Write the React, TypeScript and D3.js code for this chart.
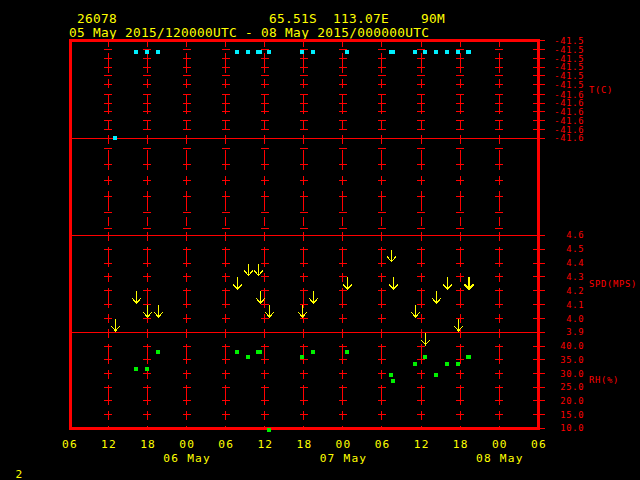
import React from "react";
import * as d3 from "d3";

// ---- header text ----
const stationId = "26078";
const latText = "65.51S";
const lonText = "113.07E";
const elevText = "90M";
const titleRange = "05 May 2015/120000UTC - 08 May 2015/000000UTC";
const pageNumber = "2";

// ---- time axis (hours since 05 May 06Z) ----
const timeTickHours = [0, 6, 12, 18, 24, 30, 36, 42, 48, 54, 60, 66, 72];
const timeTickLabels = ["06", "12", "18", "00", "06", "12", "18", "00", "06", "12", "18", "00", "06"];
const dateLabels = ["06 May", "07 May", "08 May"];
const dateLabelHours = [18, 42, 66];

// ---- observations ----
const obsHours = [7.0, 10.25, 11.9, 13.6, 25.75, 27.43, 28.9, 29.2, 30.6, 35.72, 37.41, 42.63, 49.46, 49.7, 53.07, 54.6, 56.3, 57.99, 59.68, 61.2, 61.38];
const tempValues = [-41.6, -41.511, -41.511, -41.511, -41.511, -41.511, -41.511, -41.511, -41.511, -41.511, -41.511, -41.511, -41.511, -41.511, -41.511, -41.511, -41.511, -41.511, -41.511, -41.511, -41.511];
const speedValues = [3.9, 4.1, 4.0, 4.0, 4.2, 4.3, 4.3, 4.1, 4.0, 4.0, 4.1, 4.2, 4.4, 4.2, 4.0, 3.8, 4.1, 4.2, 3.9, 4.2, 4.2];
const rhValues: (number | null)[] = [null, 31.46, 31.46, 37.7, 37.7, 35.9, 37.7, 37.7, 9.5, 35.9, 37.7, 37.7, 29.6, 27.4, 33.6, 35.9, 29.6, 33.6, 33.6, 35.9, 35.9];

// ---- y ticks ----
const tempTicks = [-41.5, -41.509, -41.518, -41.527, -41.536, -41.545, -41.555, -41.564, -41.573, -41.582, -41.591, -41.6];
const tempTickLabels = ["-41.5", "-41.5", "-41.5", "-41.5", "-41.5", "-41.5", "-41.6", "-41.6", "-41.6", "-41.6", "-41.6", "-41.6"];
const speedTicks = [4.6, 4.5, 4.4, 4.3, 4.2, 4.1, 4.0, 3.9];
const speedTickLabels = ["4.6", "4.5", "4.4", "4.3", "4.2", "4.1", "4.0", "3.9"];
const rhTicks = [40, 35, 30, 25, 20, 15, 10];
const rhTickLabels = ["40.0", "35.0", "30.0", "25.0", "20.0", "15.0", "10.0"];
const emptyPanelTicks = [6.5, 23, 39.5, 56, 72.5, 89];

// ---- layout ----
const W = 640, H = 480;
const X0 = 69.3, X1 = 538.3;
const P = [40.8, 138.3, 235.3, 332.3, 428.3]; // panel boundaries
const RED = "#ff0000", YEL = "#ffff00", CYAN = "#00f0ff", GREEN = "#00f000";
const MONO = "'DejaVu Sans Mono', monospace";

export default function App() {
  const x = d3.scaleLinear().domain([0, 72]).range([X0, X1]);
  const yT = d3.scaleLinear().domain([-41.6, -41.5]).range([P[1], P[0]]);
  const yE = d3.scaleLinear().domain([0, 100]).range([P[2], P[1]]);
  const yS = d3.scaleLinear().domain([3.9, 4.6]).range([P[3], P[2]]);
  const yR = d3.scaleLinear().domain([10, 45]).range([P[4], P[3]]);

  const panels = [
    { top: P[0], bot: P[1], ys: tempTicks.map((v) => yT(v)) },
    { top: P[1], bot: P[2], ys: emptyPanelTicks.map((v) => yE(v)) },
    { top: P[2], bot: P[3], ys: speedTicks.map((v) => yS(v)) },
    { top: P[3], bot: P[4], ys: rhTicks.map((v) => yR(v)) },
  ];
  const gridHours = timeTickHours.slice(1, -1);
  const frameL = 70.3, frameR = 538.2, frameT = 40.8, frameB = 428.2;
  const axisFont = { fontFamily: MONO, fontSize: 8.8, letterSpacing: 0.7 };

  return (
    <svg width={W} height={H} style={{ position: "fixed", left: 0, top: 0, background: "#000" }}>
      <rect x={0} y={0} width={W} height={H} fill="#000" />
      {/* header */}
      <g fill={YEL} fontFamily={MONO} fontSize={12.8} letterSpacing={0.3}>
        <text x={77} y={23}>{stationId}</text>
        <text x={269} y={23}>{latText}</text>
        <text x={333} y={23}>{lonText}</text>
        <text x={421} y={23}>{elevText}</text>
        <text x={69} y={36.5}>{titleRange}</text>
      </g>

      {/* vertical grid lines with crosses */}
      <g stroke={RED} strokeWidth={1} shapeRendering="crispEdges">
        {panels.map((p, pi) =>
          gridHours.map((h, hi) => (
            <g key={`g${pi}-${hi}`}>
              <line x1={x(h)} x2={x(h)} y1={p.top} y2={p.bot} strokeDasharray="9 6 20 6" strokeDashoffset={3} />
              {p.ys.map((yy, k) => (
                <line key={k} x1={x(h) - 4} x2={x(h) + 4} y1={yy} y2={yy} />
              ))}
            </g>
          ))
        )}
        {/* panel separators */}
        {[P[1], P[2], P[3]].map((yy, i) => (
          <line key={`sep${i}`} x1={frameL} x2={545} y1={yy} y2={yy} />
        ))}
        {/* right axis ticks */}
        {[...tempTicks.map((v) => yT(v)), ...speedTicks.map((v) => yS(v)), ...rhTicks.map((v) => yR(v))].map((yy, i) => (
          <line key={`rt${i}`} x1={533} x2={545} y1={yy} y2={yy} />
        ))}
      </g>

      {/* frame */}
      <rect x={frameL} y={frameT} width={frameR - frameL} height={frameB - frameT} fill="none" stroke={RED} strokeWidth={3} shapeRendering="crispEdges" />

      {/* right axis labels */}
      <g fill={RED} {...axisFont} textAnchor="end">
        {tempTicks.map((v, i) => (
          <text key={`tl${i}`} x={584.2} y={yT(v)} dy="0.36em">{tempTickLabels[i]}</text>
        ))}
        {speedTicks.map((v, i) => (
          <text key={`sl${i}`} x={584.2} y={yS(v)} dy="0.36em">{speedTickLabels[i]}</text>
        ))}
        {rhTicks.map((v, i) => (
          <text key={`rl${i}`} x={584.2} y={yR(v)} dy="0.36em">{rhTickLabels[i]}</text>
        ))}
      </g>
      <g fill={RED} {...axisFont}>
        <text x={589} y={(P[0] + P[1]) / 2} dy="0.36em">T(C)</text>
        <text x={589} y={(P[2] + P[3]) / 2} dy="0.36em">SPD(MPS)</text>
        <text x={589} y={(P[3] + P[4]) / 2} dy="0.36em">RH(%)</text>
      </g>

      {/* temperature markers */}
      <g fill={CYAN}>
        {obsHours.map((h, i) => (
          <rect key={`t${i}`} x={Math.round(x(h)) - 2} y={Math.round(yT(tempValues[i])) - 2} width={4} height={4} />
        ))}
      </g>

      {/* wind speed arrows */}
      <g stroke={YEL} strokeWidth={1} fill="none" shapeRendering="crispEdges">
        {obsHours.map((h, i) => {
          const cx = Math.round(x(h)) + 0.5;
          const tip = yS(speedValues[i]) - 1.3;
          return (
            <path key={`s${i}`} d={`M${cx},${tip - 12}L${cx},${tip}M${cx - 4.3},${tip - 5}L${cx},${tip}L${cx + 4.3},${tip - 5}`} />
          );
        })}
      </g>

      {/* RH markers */}
      <g fill={GREEN}>
        {obsHours.map((h, i) =>
          rhValues[i] == null ? null : (
            <rect key={`r${i}`} x={Math.round(x(h)) - 2} y={Math.round(yR(rhValues[i] as number)) - 2} width={4} height={4} />
          )
        )}
      </g>

      {/* time axis labels */}
      <g fill={YEL} fontFamily={MONO} fontSize={11.2} letterSpacing={1.2} textAnchor="middle">
        {timeTickHours.map((h, i) => (
          <text key={`x${i}`} x={x(h) + 0.6} y={448.3}>{timeTickLabels[i]}</text>
        ))}
        {dateLabelHours.map((h, i) => (
          <text key={`d${i}`} x={x(h) + 0.6} y={461.7}>{dateLabels[i]}</text>
        ))}
      </g>
      <text x={15.5} y={477.5} fill={YEL} fontFamily={MONO} fontSize={11.2}>{pageNumber}</text>
    </svg>
  );
}
